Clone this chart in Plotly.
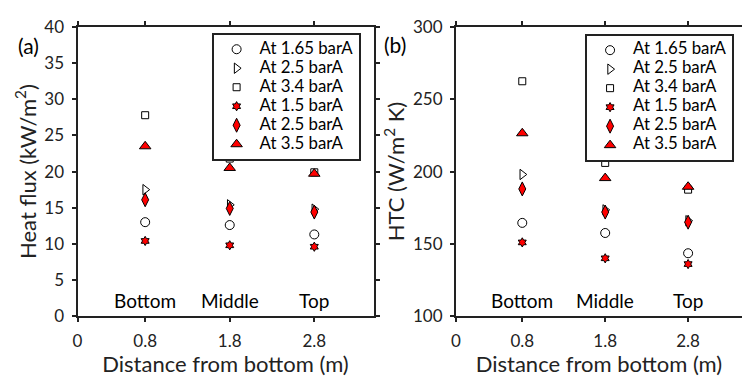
import plotly.graph_objects as go

x_pos = [0.8, 1.8, 2.8]
region_labels = ["Bottom", "Middle", "Top"]
series_names = ["At 1.65 barA", "At 2.5 barA", "At 3.4 barA", "At 1.5 barA", "At 2.5 barA", "At 3.5 barA"]

heat_flux = [
    [13.0, 12.6, 11.3],
    [17.5, 15.4, 14.8],
    [27.8, 21.8, 19.9],
    [10.4, 9.8, 9.6],
    [16.1, 14.9, 14.4],
    [23.5, 20.5, 19.7],
]
htc = [
    [164.5, 157.5, 143.5],
    [198.0, 173.5, 166.0],
    [262.5, 206.0, 187.5],
    [151.0, 140.0, 136.0],
    [188.0, 172.0, 165.0],
    [226.5, 195.5, 189.5],
]

symbols = ["circle-open", "triangle-right-open", "square-open", "hexagram", "diamond-tall", "triangle-up"]
fills = ["black", "black", "black", "red", "red", "red"]
sizes = [9, 9, 7, 7, 10, 10]

FONT = "Lato"
fig = go.Figure()


def legend_label(s):
    return '<span style="font-size:16.8px">' + s + '</span>'


for i in range(6):
    marker = dict(symbol=symbols[i], size=sizes[i], color=fills[i],
                  line=dict(color="black", width=1))
    fig.add_trace(go.Scatter(x=x_pos, y=heat_flux[i], mode="markers", name=legend_label(series_names[i]),
                             marker=marker, xaxis="x", yaxis="y", legend="legend"))
for i in range(6):
    marker = dict(symbol=symbols[i], size=sizes[i], color=fills[i],
                  line=dict(color="black", width=1))
    fig.add_trace(go.Scatter(x=x_pos, y=htc[i], mode="markers", name=legend_label(series_names[i]),
                             marker=marker, xaxis="x2", yaxis="y2", legend="legend2"))

tickfont = dict(family=FONT, size=17, color="#222")
titlefont = dict(family=FONT, size=22, color="#222")
axis_common = dict(showgrid=False, zeroline=False, showline=True, linecolor="#222",
                   linewidth=2, ticks="outside", ticklen=4, tickwidth=1.5, tickcolor="#222",
                   tickfont=tickfont, ticklabelstandoff=4)

ann = []
for xv, lab in zip(x_pos, region_labels):
    ann.append(dict(x=xv, y=2.1, xref="x", yref="y", text=lab, showarrow=False,
                    font=dict(family=FONT, size=19, color="black")))
    ann.append(dict(x=xv, y=110.7, xref="x2", yref="y2", text=lab, showarrow=False,
                    font=dict(family=FONT, size=19, color="black")))
ann.append(dict(x=11 / 742, y=1 - 21 / 379, xref="paper", yref="paper", text="(a)", showarrow=False,
                xanchor="left", font=dict(family=FONT, size=21, color="black")))
ann.append(dict(x=380 / 742, y=1 - 20 / 379, xref="paper", yref="paper", text="(b)", showarrow=False,
                xanchor="left", font=dict(family=FONT, size=21, color="black")))

legend_style = dict(bordercolor="#222", borderwidth=2, bgcolor="white",
                    font=dict(family=FONT, size=11, color="black"),
                    xanchor="left", yanchor="top", tracegroupgap=0, itemwidth=36)

fig.update_layout(
    width=742, height=379, margin=dict(l=0, r=0, t=0, b=0),
    paper_bgcolor="white", plot_bgcolor="white",
    font=dict(family=FONT),
    xaxis=dict(domain=[73 / 742, 371 / 742], range=[0, 3.5], tickvals=[0, 0.8, 1.8, 2.8],
               ticktext=["0", "0.8", "1.8", "2.8"], mirror="ticks",
               title=dict(text="Distance from bottom (m)", font=titlefont, standoff=5),
               anchor="y", **axis_common),
    yaxis=dict(domain=[1 - 323 / 379, 1 - 17 / 379], range=[0, 40], dtick=5, mirror="ticks",
               title=dict(text="Heat flux (kW/m<sup>2</sup>)", font=titlefont, standoff=2),
               anchor="x", **axis_common),
    xaxis2=dict(domain=[454 / 742, 1.0], range=[0, 3.45], tickvals=[0, 0.8, 1.8, 2.8],
                ticktext=["0", "0.8", "1.8", "2.8"], mirror="ticks",
                title=dict(text="Distance from bottom (m)", font=titlefont, standoff=5),
                anchor="y2", **axis_common),
    yaxis2=dict(domain=[1 - 323 / 379, 1 - 17 / 379], range=[100, 300], dtick=50,
                title=dict(text="HTC (W/m<sup>2</sup> K)", font=titlefont, standoff=2),
                anchor="x2", **axis_common),
    legend=dict(x=208 / 742, y=1 - 23 / 379, **legend_style),
    legend2=dict(x=584 / 742, y=1 - 24 / 379, **legend_style),
    annotations=ann,
    showlegend=True,
)

fig.write_html("out.html")
